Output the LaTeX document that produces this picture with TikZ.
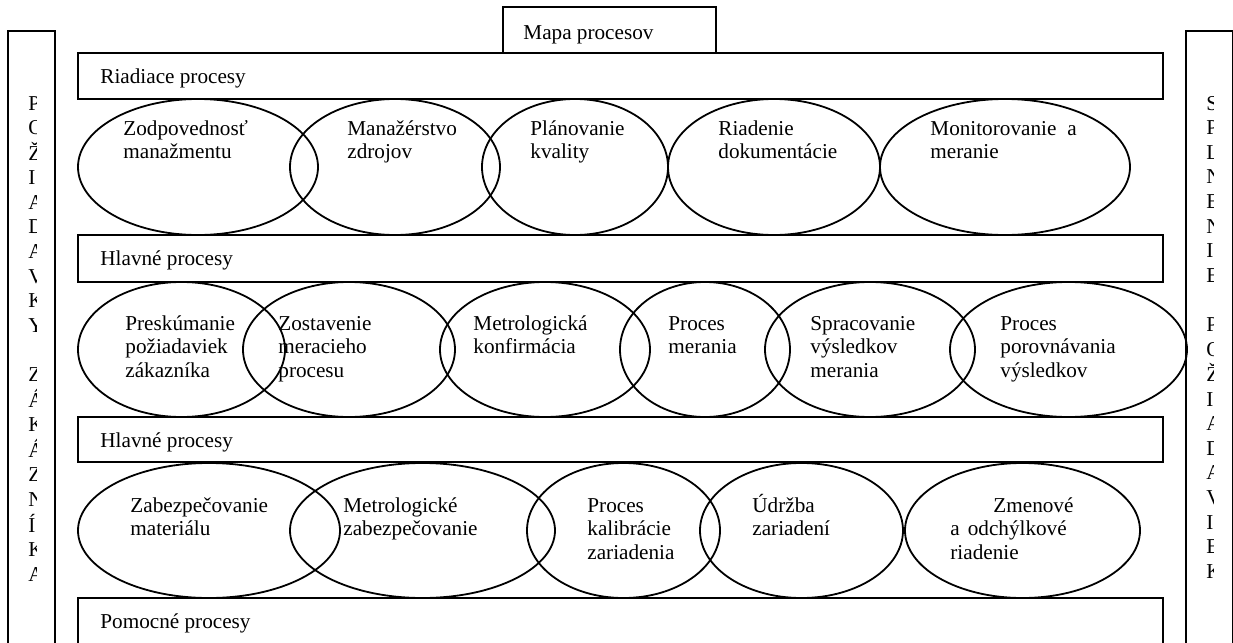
\documentclass[tikz,border=0pt]{standalone}
\usepackage{fontspec}
\setmainfont{Liberation Serif}
\usetikzlibrary{shapes.geometric}
\newcommand{\txtfont}{\fontsize{10.6pt}{11.75pt}\selectfont}
\newcommand{\colfont}{\fontsize{10.6pt}{12.3pt}\selectfont}
% stacked lines whose baseline is that of the first line
\newcommand{\ml}[1]{\begin{tabular}[t]{@{}l@{}}#1\end{tabular}}
\tikzset{
  frame/.style={draw, line width=0.9pt},
  proc/.style={ellipse, draw, line width=0.9pt, inner sep=0pt},
  lbl/.style={anchor=base west, inner sep=0pt, font=\txtfont},
  col/.style={anchor=base west, inner sep=0pt, font=\colfont},
}
\begin{document}
\begin{tikzpicture}[x=0.5pt, y=-0.5pt]
\useasboundingbox (0,0) rectangle (1233,643);

% side columns
\draw[frame] (8,31) rectangle (55,680);
\draw[frame] (1186,31) rectangle (1233,680);
\begin{scope}
  \clip (10,32) rectangle (36,643);
  \node[col] (leftcol) at (28,110) {\ml{P\\O\\Ž\\I\\A\\D\\A\\V\\K\\Y\\ \\Z\\Á\\K\\Á\\Z\\N\\Í\\K\\A}};
\end{scope}
\begin{scope}
  \clip (1188,32) rectangle (1213,643);
  \node[col] (rightcol) at (1206,110) {\ml{S\\P\\L\\N\\E\\N\\I\\E\\ \\P\\O\\Ž\\I\\A\\D\\A\\V\\I\\E\\K}};
\end{scope}

% title tab
\draw[frame] (503,7) rectangle (716,53);
\node[lbl] (title) at (523,39) {Mapa procesov};

% process bands
\draw[frame] (78,53) rectangle (1163,99);
\node[lbl] (band1) at (100,83) {Riadiace procesy};
\draw[frame] (78,235) rectangle (1163,282);
\node[lbl] (band2) at (100,265) {Hlavné procesy};
\draw[frame] (78,417) rectangle (1163,462);
\node[lbl] (band3) at (100,447) {Hlavné procesy};
\draw[frame] (78,598) rectangle (1163,680);
\node[lbl] (band4) at (100,628) {Pomocné procesy};

% management processes
\node[proc, minimum width=120pt, minimum height=68pt] (r1) at (198,167) {};
\node[proc, minimum width=105pt, minimum height=68pt] (r2) at (395,167) {};
\node[proc, minimum width=93pt,  minimum height=68pt] (r3) at (575,167) {};
\node[proc, minimum width=106pt, minimum height=68pt] (r4) at (774,167) {};
\node[proc, minimum width=125pt, minimum height=68pt] (r5) at (1005,167) {};
\node[lbl] (t-r1) at (123,135) {\ml{Zodpovednosť\\manažmentu}};
\node[lbl] (t-r2) at (347,135) {\ml{Manažérstvo\\zdrojov}};
\node[lbl] (t-r3) at (530,135) {\ml{Plánovanie\\kvality}};
\node[lbl] (t-r4) at (718,135) {\ml{Riadenie\\dokumentácie}};
\node[lbl] (t-r5) at (930,135) {\ml{Monitorovanie\hspace{5.5pt}a\\meranie}};

% main processes
\node[proc, minimum width=103.5pt, minimum height=67.5pt] (m1) at (181.5,349.5) {};
\node[proc, minimum width=106pt,   minimum height=67.5pt] (m2) at (349,349.5) {};
\node[proc, minimum width=105pt,   minimum height=67.5pt] (m3) at (545,349.5) {};
\node[proc, minimum width=85pt,    minimum height=67.5pt] (m4) at (705,349.5) {};
\node[proc, minimum width=105pt,   minimum height=67.5pt] (m5) at (870,349.5) {};
\node[proc, minimum width=118.5pt, minimum height=67.5pt] (m6) at (1068.5,349.5) {};
\node[lbl] (t-m1) at (125,330) {\ml{Preskúmanie\\požiadaviek\\zákazníka}};
\node[lbl] (t-m2) at (278,330) {\ml{Zostavenie\\meracieho\\procesu}};
\node[lbl] (t-m3) at (473,330) {\ml{Metrologická\\konfirmácia}};
\node[lbl] (t-m4) at (668,330) {\ml{Proces\\merania}};
\node[lbl] (t-m5) at (810,330) {\ml{Spracovanie\\výsledkov\\merania}};
\node[lbl] (t-m6) at (1000,330) {\ml{Proces\\porovnávania\\výsledkov}};

% second row of main processes
\node[proc, minimum width=131pt,   minimum height=67.5pt] (s1) at (209,530.5) {};
\node[proc, minimum width=132.5pt, minimum height=67.5pt] (s2) at (422.5,530.5) {};
\node[proc, minimum width=96.5pt,  minimum height=67.5pt] (s3) at (623.5,530.5) {};
\node[proc, minimum width=101.5pt, minimum height=67.5pt] (s4) at (801.5,530.5) {};
\node[proc, minimum width=117.5pt, minimum height=67.5pt] (s5) at (1022.5,530.5) {};
\node[lbl] (t-s1) at (130,512) {\ml{Zabezpečovanie\\materiálu}};
\node[lbl] (t-s2) at (343,512) {\ml{Metrologické\\zabezpečovanie}};
\node[lbl] (t-s3) at (587,512) {\ml{Proces\\kalibrácie\\zariadenia}};
\node[lbl] (t-s4) at (752,512) {\ml{Údržba\\zariadení}};
\node[lbl] (t-s5a) at (993,512) {Zmenové};
\node[lbl] (t-s5b) at (950,535.5) {\ml{a\hspace{4pt}odchýlkové\\riadenie}};
\end{tikzpicture}
\end{document}
